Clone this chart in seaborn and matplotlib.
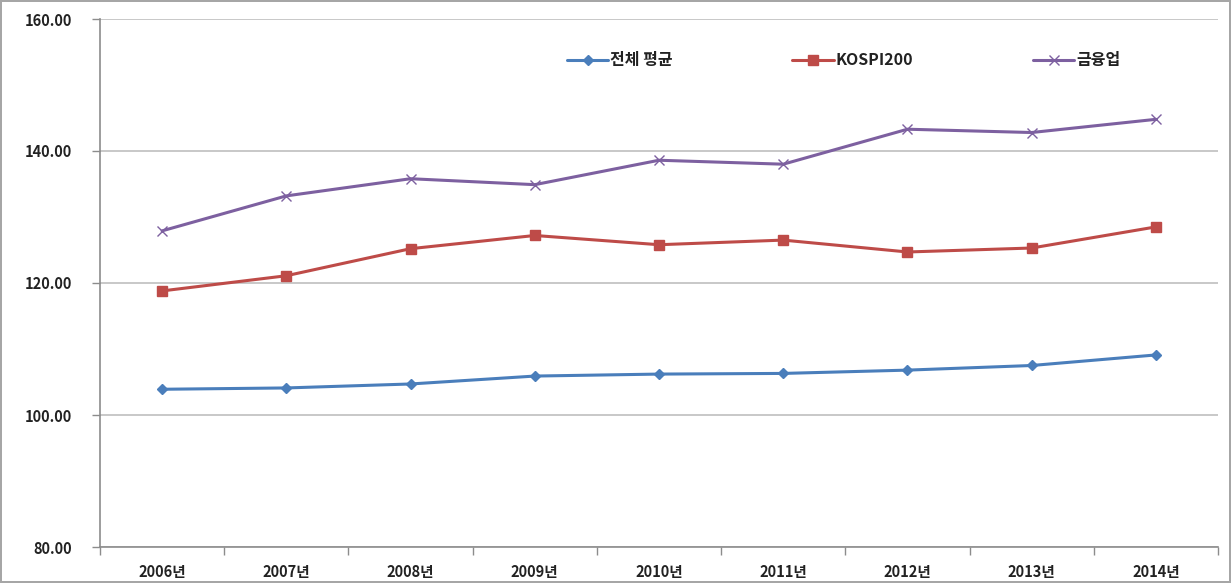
import matplotlib
matplotlib.use("Agg")
import matplotlib.pyplot as plt
from matplotlib.ticker import FixedLocator
import seaborn as sns
import pandas as pd

years = ["2006년", "2007년", "2008년", "2009년", "2010년", "2011년", "2012년", "2013년", "2014년"]
avg_all = [103.9, 104.1, 104.7, 105.9, 106.2, 106.3, 106.8, 107.5, 109.1]
kospi200 = [118.8, 121.1, 125.2, 127.2, 125.8, 126.5, 124.7, 125.3, 128.5]
finance = [127.9, 133.2, 135.8, 134.9, 138.6, 138.0, 143.3, 142.8, 144.8]
series_names = ["전체 평균", "KOSPI200", "금융업"]
y_ticks = [80, 100, 120, 140, 160]

sns.set_theme(style="white")
plt.rcParams["font.family"] = ["Noto Sans CJK KR", "DejaVu Sans"]

colors = {"전체 평균": "#4A7EBB", "KOSPI200": "#BE4B48", "금융업": "#7D60A0"}
markers = {"전체 평균": "D", "KOSPI200": "s", "금융업": "x"}
msizes = {"전체 평균": 5, "KOSPI200": 7, "금융업": 7}

fig = plt.figure(figsize=(12.31, 5.83), dpi=100)
fig.patch.set_edgecolor("#A6A6A6")
fig.patch.set_linewidth(1.5)
ax = fig.add_axes([100 / 1231, 1 - 547 / 583, 1118 / 1231, 528 / 583])

for name, vals in zip(series_names, [avg_all, kospi200, finance]):
    d = pd.DataFrame({"idx": range(len(years)), "value": vals})
    sns.lineplot(data=d, x="idx", y="value", color=colors[name], marker=markers[name],
                 markersize=msizes[name], markeredgewidth=1.0,
                 markeredgecolor=colors[name], linewidth=2.2, ax=ax, label=name)

ax.set_xlim(-0.5, len(years) - 0.5)
ax.set_ylim(y_ticks[0], y_ticks[-1])
ax.set_yticks(y_ticks)
ax.set_yticklabels([f"{v:.2f}" for v in y_ticks])
ax.set_xticks(range(len(years)))
ax.set_xticklabels(years)
ax.xaxis.set_minor_locator(FixedLocator([i - 0.5 for i in range(len(years) + 1)]))
ax.tick_params(axis="x", which="major", length=0, pad=12, labelsize=10.5, colors="#222222")
ax.tick_params(axis="x", which="minor", length=6, width=1, color="#8C8C8C", bottom=True)
ax.tick_params(axis="y", which="major", length=6, width=1, color="#8C8C8C", left=True,
               pad=14, labelsize=10.5, labelcolor="#222222")
for lab in ax.get_xticklabels() + ax.get_yticklabels():
    lab.set_fontweight("bold")

ax.yaxis.grid(True, color="#BFBFBF", linewidth=1.2)
ax.set_axisbelow(True)
ax.set_xlabel("")
ax.set_ylabel("")
for side in ["top", "right"]:
    ax.spines[side].set_visible(False)
for side in ["left", "bottom"]:
    ax.spines[side].set_color("#8C8C8C")
    ax.spines[side].set_linewidth(1.2)

leg = ax.legend(ncol=3, frameon=False, loc="center",
                bbox_to_anchor=(0.665, 0.922), columnspacing=7.5, handlelength=2.6,
                handletextpad=0.1, prop={"size": 11.5, "weight": "bold"})
for t in leg.get_texts():
    t.set_color("#222222")

fig.savefig("out.png", dpi=100, edgecolor=fig.get_edgecolor())
